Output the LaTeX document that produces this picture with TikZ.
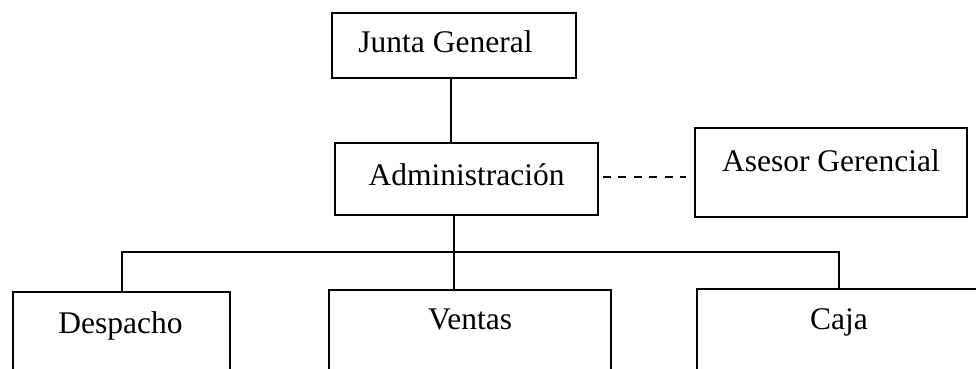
\documentclass[tikz,border=0pt]{standalone}
\usepackage{fontspec}
\setmainfont{Liberation Serif}
\begin{document}
\begin{tikzpicture}[x=1pt,y=-1pt,
  box/.style={draw, line width=1.8pt, rectangle, inner sep=0pt},
  lbl/.style={anchor=base, inner sep=0pt, font=\fontsize{31.5}{36}\selectfont},
  conn/.style={line width=1.8pt}]
\useasboundingbox (0,0) rectangle (976,368);
% boxes
\node[box, minimum width=244pt, minimum height=65pt] (junta) at (454,45.5) {};
\node[box, minimum width=263pt, minimum height=72pt] (admin) at (466.5,179) {};
\node[box, minimum width=272pt, minimum height=89pt] (asesor) at (831,172.5) {};
\node[box, minimum width=217pt, minimum height=120pt] (desp) at (121.5,352) {};
\node[box, minimum width=282pt, minimum height=120pt] (vent) at (470,350) {};
\node[box, minimum width=400pt, minimum height=120pt] (caja) at (897,349) {};
% texts
\node[lbl] (tjunta) at (445.5,52) {Junta General};
\node[lbl] (tadmin) at (466.5,185) {Administración};
\node[lbl] (tasesor) at (831,171.7) {Asesor Gerencial};
\node[lbl] (tdesp) at (120.5,333) {Despacho};
\node[lbl] (tvent) at (470,329) {Ventas};
\node[lbl] (tcaja) at (839,329) {Caja};
% connectors
\coordinate (bus) at (454,252);
\draw[conn] ([xshift=-3pt]junta.south) -- ([xshift=-3pt]junta.south |- admin.north);
\draw[conn, dash pattern=on 8pt off 7.5pt, shorten <=4pt, shorten >=8pt]
  ([yshift=2pt]admin.east) -- ([yshift=2pt]admin.east -| asesor.west);
\draw[conn] ([xshift=-12.5pt]admin.south) -- (bus);
\draw[conn] (desp.north -| 122,0) -- (122,252) -- (839,252) -- (caja.north -| 839,0);
\draw[conn] (bus) -- (bus |- vent.north);
\end{tikzpicture}
\end{document}
